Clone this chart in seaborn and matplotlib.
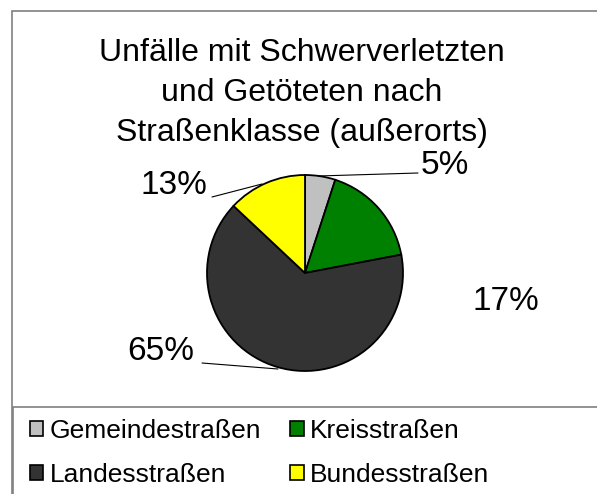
import matplotlib
matplotlib.use("Agg")
import matplotlib.pyplot as plt
from matplotlib.patches import Rectangle, Patch
import seaborn as sns

# values (percent)
categories = ["Gemeindestraßen", "Kreisstraßen", "Landesstraßen", "Bundesstraßen"]
shares = [5, 17, 65, 13]
labels = ["5%", "17%", "65%", "13%"]
colors = ["#C0C0C0", "#008000", "#333333", "#FFFF00"]

TITLE = "Unfälle mit Schwerverletzten\nund Getöteten nach\nStraßenklasse (außerorts)"

W, H = 597, 494
CX, CY, R = 305, 273, 98  # pie centre / radius in pixels


def px(x, y):
    """pixel position (top-left origin) -> data coords of the pie axes"""
    return (x - CX) / R, (CY - y) / R


sns.set_theme(style="white")
plt.rcParams["font.family"] = ["Liberation Sans", "DejaVu Sans"]
plt.rcParams["text.color"] = "black"

fig = plt.figure(figsize=(W / 100, H / 100), dpi=100)
ax = fig.add_axes([0, 0, 1, 1])
ax.pie(shares, colors=colors, startangle=90, counterclock=False, radius=1,
       wedgeprops=dict(edgecolor="black", linewidth=1.3))
ax.set_xlim(-CX / R, (W - CX) / R)
ax.set_ylim(-(H - CY) / R, CY / R)
ax.set_aspect("auto")
ax.axis("off")

# percent labels with leader lines
lab_fs = 24
ax.text(*px(445, 165), labels[0], fontsize=lab_fs, ha="center", va="center")
ax.plot(*zip(px(318, 176), px(418, 173)), color="black", lw=0.8)
ax.text(*px(506, 302), labels[1], fontsize=lab_fs, ha="center", va="center")
ax.text(*px(161, 352), labels[2], fontsize=lab_fs, ha="center", va="center")
ax.plot(*zip(px(278, 369), px(202, 363)), color="black", lw=0.8)
ax.text(*px(174, 185), labels[3], fontsize=lab_fs, ha="center", va="center")
ax.plot(*zip(px(262, 184), px(212, 197)), color="black", lw=0.8)

fig.text(302 / W, 1 - 93 / H, TITLE, fontsize=23, ha="center", va="center",
         linespacing=1.45)

# frame and legend box
fig.patches.append(Rectangle((12 / W, -0.01), 1, 1 - 11 / H + 0.01,
                             transform=fig.transFigure, fill=False,
                             edgecolor="#808080", lw=1.2))
fig.patches.append(Rectangle((13 / W, -0.01), 1, 1 - 407 / H + 0.01,
                             transform=fig.transFigure, fill=False,
                             edgecolor="#808080", lw=1.2))

# legend fills column-wise, so reorder to read row by row
order = [0, 2, 1, 3]
handles = [Patch(facecolor=colors[i], edgecolor="black", lw=1.2) for i in order]
fig.legend(handles, [categories[i] for i in order], ncol=2, loc="upper left",
           bbox_to_anchor=(30 / W, 1 - 419 / H), frameon=False, fontsize=19,
           handlelength=0.5, handleheight=0.5, handletextpad=0.25,
           columnspacing=1.1, labelspacing=0.75, borderpad=0, borderaxespad=0)

fig.savefig("out.png", dpi=100)
